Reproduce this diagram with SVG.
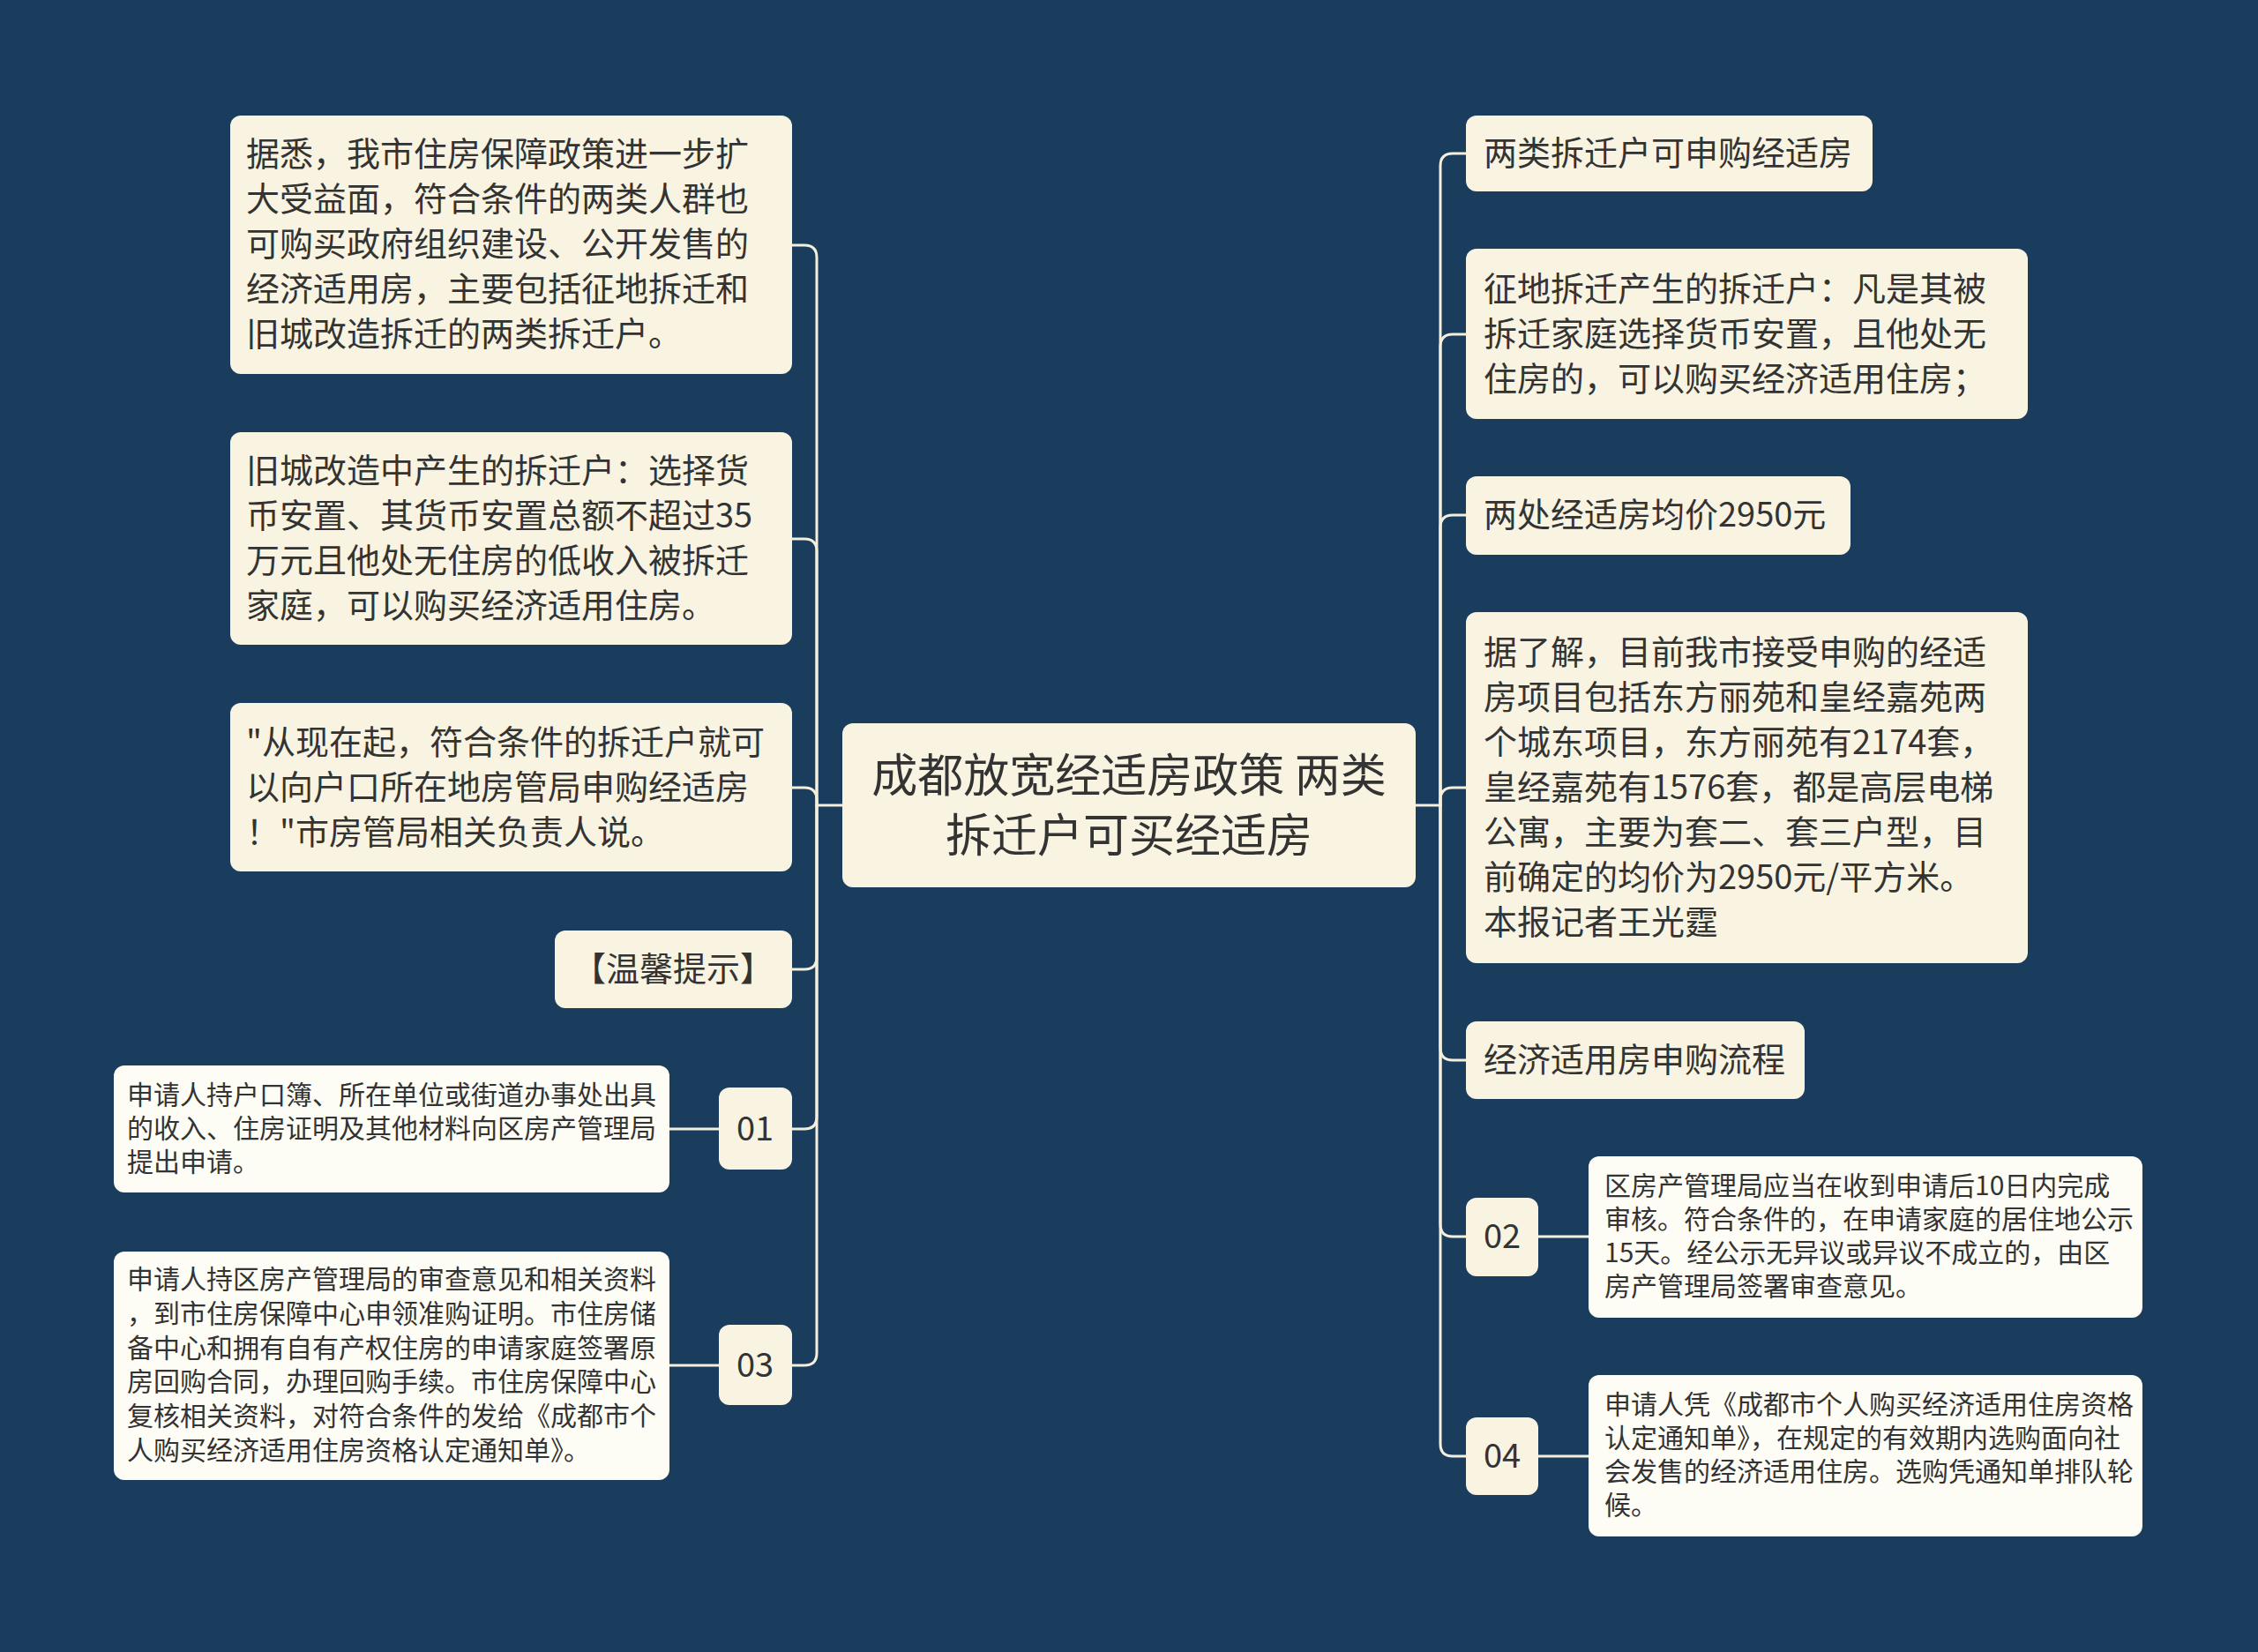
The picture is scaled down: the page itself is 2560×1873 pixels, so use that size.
<svg xmlns="http://www.w3.org/2000/svg" width="2560" height="1873" viewBox="0 0 2560 1873">
<style>
.bg{fill:#1a3d5e}
.n{fill:#f8f4e1}
.d{fill:#fefdf5}
.t{font-family:"Noto Sans CJK SC","Noto Sans",sans-serif;fill:#333333;dominant-baseline:central;transform:translateY(-4px)}
.f38{font-size:38px}
.f30{font-size:30px}
.f52{font-size:52px}
.c{fill:none;stroke:#f4efdc;stroke-width:3;stroke-linecap:round}
</style>
<rect class="bg" x="0" y="0" width="2560" height="1873"/>
<g id="connectors">
<path class="c" d="M955 913 H926"/>
<path class="c" d="M926 913 V292 Q926 278 912 278 H898"/>
<path class="c" d="M926 913 V625 Q926 611 912 611 H898"/>
<path class="c" d="M926 913 V907 Q926 893 912 893 H898"/>
<path class="c" d="M926 913 V1085 Q926 1099 912 1099 H898"/>
<path class="c" d="M926 913 V1266 Q926 1280 912 1280 H898"/>
<path class="c" d="M926 913 V1534 Q926 1548 912 1548 H898"/>
<path class="c" d="M815 1280 H759"/>
<path class="c" d="M815 1548 H759"/>
<path class="c" d="M1605 913 H1633"/>
<path class="c" d="M1633 913 V188 Q1633 174 1647 174 H1662"/>
<path class="c" d="M1633 913 V393 Q1633 379 1647 379 H1662"/>
<path class="c" d="M1633 913 V598 Q1633 584 1647 584 H1662"/>
<path class="c" d="M1633 913 V907 Q1633 893 1647 893 H1662"/>
<path class="c" d="M1633 913 V1188 Q1633 1202 1647 1202 H1662"/>
<path class="c" d="M1633 913 V1388 Q1633 1402 1647 1402 H1662"/>
<path class="c" d="M1633 913 V1637 Q1633 1651 1647 1651 H1662"/>
<path class="c" d="M1744 1402 H1801"/>
<path class="c" d="M1744 1651 H1801"/>
</g>
<g id="center">
<rect class="n" x="955" y="820" width="650" height="186" rx="12"/>
<text class="t f52" x="1280" y="879" text-anchor="middle">成都放宽经适房政策 两类</text>
<text class="t f52" x="1280" y="947" text-anchor="middle">拆迁户可买经适房</text>
</g>
<g id="L1">
<rect class="n" x="261" y="131" width="637" height="293" rx="12"/>
<text class="t f38" x="279"><tspan x="279" y="175">据悉，我市住房保障政策进一步扩</tspan><tspan x="279" y="226">大受益面，符合条件的两类人群也</tspan><tspan x="279" y="277">可购买政府组织建设、公开发售的</tspan><tspan x="279" y="328">经济适用房，主要包括征地拆迁和</tspan><tspan x="279" y="379">旧城改造拆迁的两类拆迁户。</tspan></text>
</g>
<g id="L2">
<rect class="n" x="261" y="490" width="637" height="241" rx="12"/>
<text class="t f38" x="279"><tspan x="279" y="534">旧城改造中产生的拆迁户：选择货</tspan><tspan x="279" y="585">币安置、其货币安置总额不超过35</tspan><tspan x="279" y="636">万元且他处无住房的低收入被拆迁</tspan><tspan x="279" y="687">家庭，可以购买经济适用住房。</tspan></text>
</g>
<g id="L3">
<rect class="n" x="261" y="797" width="637" height="191" rx="12"/>
<text class="t f38" x="279"><tspan x="279" y="842">"从现在起，符合条件的拆迁户就可</tspan><tspan x="279" y="893">以向户口所在地房管局申购经适房</tspan><tspan x="279" y="944">！"市房管局相关负责人说。</tspan></text>
</g>
<g id="L4">
<rect class="n" x="629" y="1055" width="269" height="88" rx="12"/>
<text class="t f38" x="763" y="1099" text-anchor="middle">【温馨提示】</text>
</g>
<g id="S01">
<rect class="n" x="815" y="1233" width="83" height="93" rx="12"/>
<text class="t f38" x="856" y="1280" text-anchor="middle">01</text>
</g>
<g id="S01d">
<rect class="d" x="129" y="1208" width="630" height="144" rx="12"/>
<text class="t f30" x="144"><tspan x="144" y="1243">申请人持户口簿、所在单位或街道办事处出具</tspan><tspan x="144" y="1281">的收入、住房证明及其他材料向区房产管理局</tspan><tspan x="144" y="1319">提出申请。</tspan></text>
</g>
<g id="S03">
<rect class="n" x="815" y="1502" width="83" height="91" rx="12"/>
<text class="t f38" x="856" y="1548" text-anchor="middle">03</text>
</g>
<g id="S03d">
<rect class="d" x="129" y="1419" width="630" height="259" rx="12"/>
<text class="t f30" x="144"><tspan x="144" y="1452">申请人持区房产管理局的审查意见和相关资料</tspan><tspan x="144" y="1491">，到市住房保障中心申领准购证明。市住房储</tspan><tspan x="144" y="1530">备中心和拥有自有产权住房的申请家庭签署原</tspan><tspan x="144" y="1568">房回购合同，办理回购手续。市住房保障中心</tspan><tspan x="144" y="1607">复核相关资料，对符合条件的发给《成都市个</tspan><tspan x="144" y="1646">人购买经济适用住房资格认定通知单》。</tspan></text>
</g>
<g id="R1">
<rect class="n" x="1662" y="131" width="461" height="86" rx="12"/>
<text class="t f38" x="1682" y="174">两类拆迁户可申购经适房</text>
</g>
<g id="R2">
<rect class="n" x="1662" y="282" width="637" height="193" rx="12"/>
<text class="t f38" x="1682"><tspan x="1682" y="328">征地拆迁产生的拆迁户：凡是其被</tspan><tspan x="1682" y="379">拆迁家庭选择货币安置，且他处无</tspan><tspan x="1682" y="430">住房的，可以购买经济适用住房；</tspan></text>
</g>
<g id="R3">
<rect class="n" x="1662" y="540" width="436" height="89" rx="12"/>
<text class="t f38" x="1682" y="584">两处经适房均价2950元</text>
</g>
<g id="R4">
<rect class="n" x="1662" y="694" width="637" height="398" rx="12"/>
<text class="t f38" x="1682"><tspan x="1682" y="740">据了解，目前我市接受申购的经适</tspan><tspan x="1682" y="791">房项目包括东方丽苑和皇经嘉苑两</tspan><tspan x="1682" y="842">个城东项目，东方丽苑有2174套，</tspan><tspan x="1682" y="893">皇经嘉苑有1576套，都是高层电梯</tspan><tspan x="1682" y="944">公寓，主要为套二、套三户型，目</tspan><tspan x="1682" y="995">前确定的均价为2950元/平方米。</tspan><tspan x="1682" y="1046">本报记者王光霆</tspan></text>
</g>
<g id="R5">
<rect class="n" x="1662" y="1158" width="384" height="88" rx="12"/>
<text class="t f38" x="1682" y="1202">经济适用房申购流程</text>
</g>
<g id="S02">
<rect class="n" x="1662" y="1358" width="82" height="89" rx="12"/>
<text class="t f38" x="1703" y="1402" text-anchor="middle">02</text>
</g>
<g id="S02d">
<rect class="d" x="1801" y="1311" width="628" height="183" rx="12"/>
<text class="t f30" x="1819"><tspan x="1819" y="1346">区房产管理局应当在收到申请后10日内完成</tspan><tspan x="1819" y="1384">审核。符合条件的，在申请家庭的居住地公示</tspan><tspan x="1819" y="1422">15天。经公示无异议或异议不成立的，由区</tspan><tspan x="1819" y="1460">房产管理局签署审查意见。</tspan></text>
</g>
<g id="S04">
<rect class="n" x="1662" y="1607" width="82" height="88" rx="12"/>
<text class="t f38" x="1703" y="1651" text-anchor="middle">04</text>
</g>
<g id="S04d">
<rect class="d" x="1801" y="1559" width="628" height="183" rx="12"/>
<text class="t f30" x="1819"><tspan x="1819" y="1594">申请人凭《成都市个人购买经济适用住房资格</tspan><tspan x="1819" y="1632">认定通知单》，在规定的有效期内选购面向社</tspan><tspan x="1819" y="1670">会发售的经济适用住房。选购凭通知单排队轮</tspan><tspan x="1819" y="1708">候。</tspan></text>
</g>
</svg>
